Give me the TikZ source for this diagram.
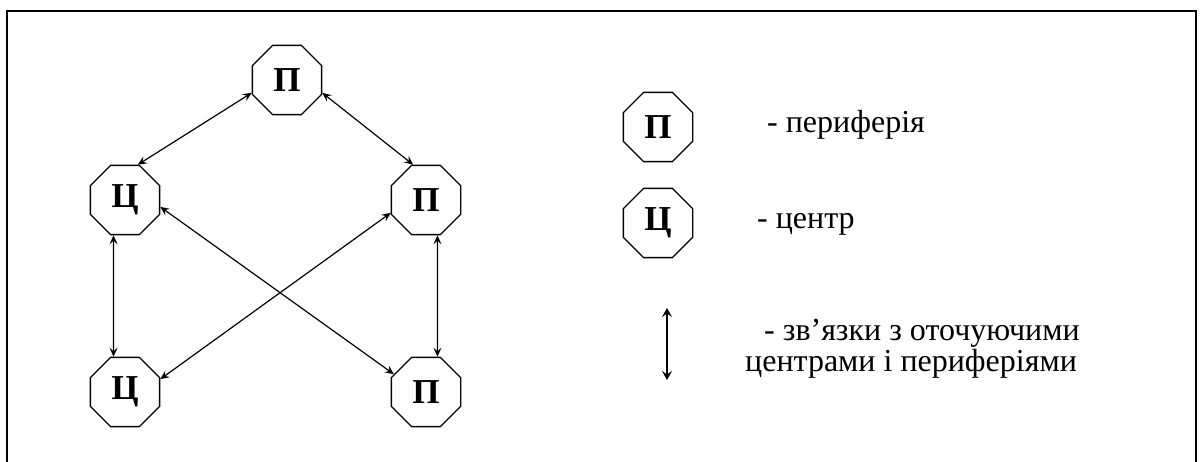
\documentclass[tikz,border=0pt]{standalone}
\usepackage{fontspec}
\setmainfont{Liberation Serif}
\usetikzlibrary{shapes.geometric,arrows.meta}

\begin{document}
\begin{tikzpicture}[x=1pt, y=-1pt,
  every node/.style={inner sep=0pt},
  cell/.style={regular polygon, regular polygon sides=8, draw, line width=1.3pt,
    minimum size=75pt, font=\fontsize{35}{35}\selectfont\bfseries},
  link/.style={<->, line width=1.2pt, >={Stealth[length=9pt, width=8pt, inset=3.5pt]}},
  legend/.style={anchor=base west, font=\fontsize{32}{26}\selectfont}]
\useasboundingbox (0,0) rectangle (1201,462);
\draw[line width=1.4pt] (7,462) -- (7,11) -- (1196,11) -- (1196,462);
% network
\node[cell] (Pt) at (287,80) {П};
\node[cell] (C1) at (125,200) {Ц};
\node[cell] (P1) at (426,200) {П};
\node[cell] (C2) at (125,392) {Ц};
\node[cell] (P2) at (426,392) {П};
\draw[link] (C1.70) -- (Pt.200);
\draw[link] (Pt.340) -- (P1.110);
\draw[link] (C1.349) -- (P2.151);
\draw[link] (P1.200) -- (C2.20);
\draw[link] (C1.252) -- (C2.108);
\draw[link] (P1.288) -- (P2.72);
% legend
\node[cell] (LP) at (658,127) {П};
\node[cell] (LC) at (658,223) {Ц};
\coordinate (aT) at (667,308);
\coordinate (aB) at (667,380);
\draw[<->, line width=1.3pt, >={Stealth[length=9pt, width=10pt, inset=3.5pt]}] (aT) -- (aB);
\node[legend] (tP) at (767,133) {- периферія};
\node[legend] (tC) at (757,229) {- центр};
\node[legend, align=left] (tA) at (745,371)
  {\hspace*{19pt}- зв’язки з оточуючими\\центрами і периферіями};
\end{tikzpicture}
\end{document}
